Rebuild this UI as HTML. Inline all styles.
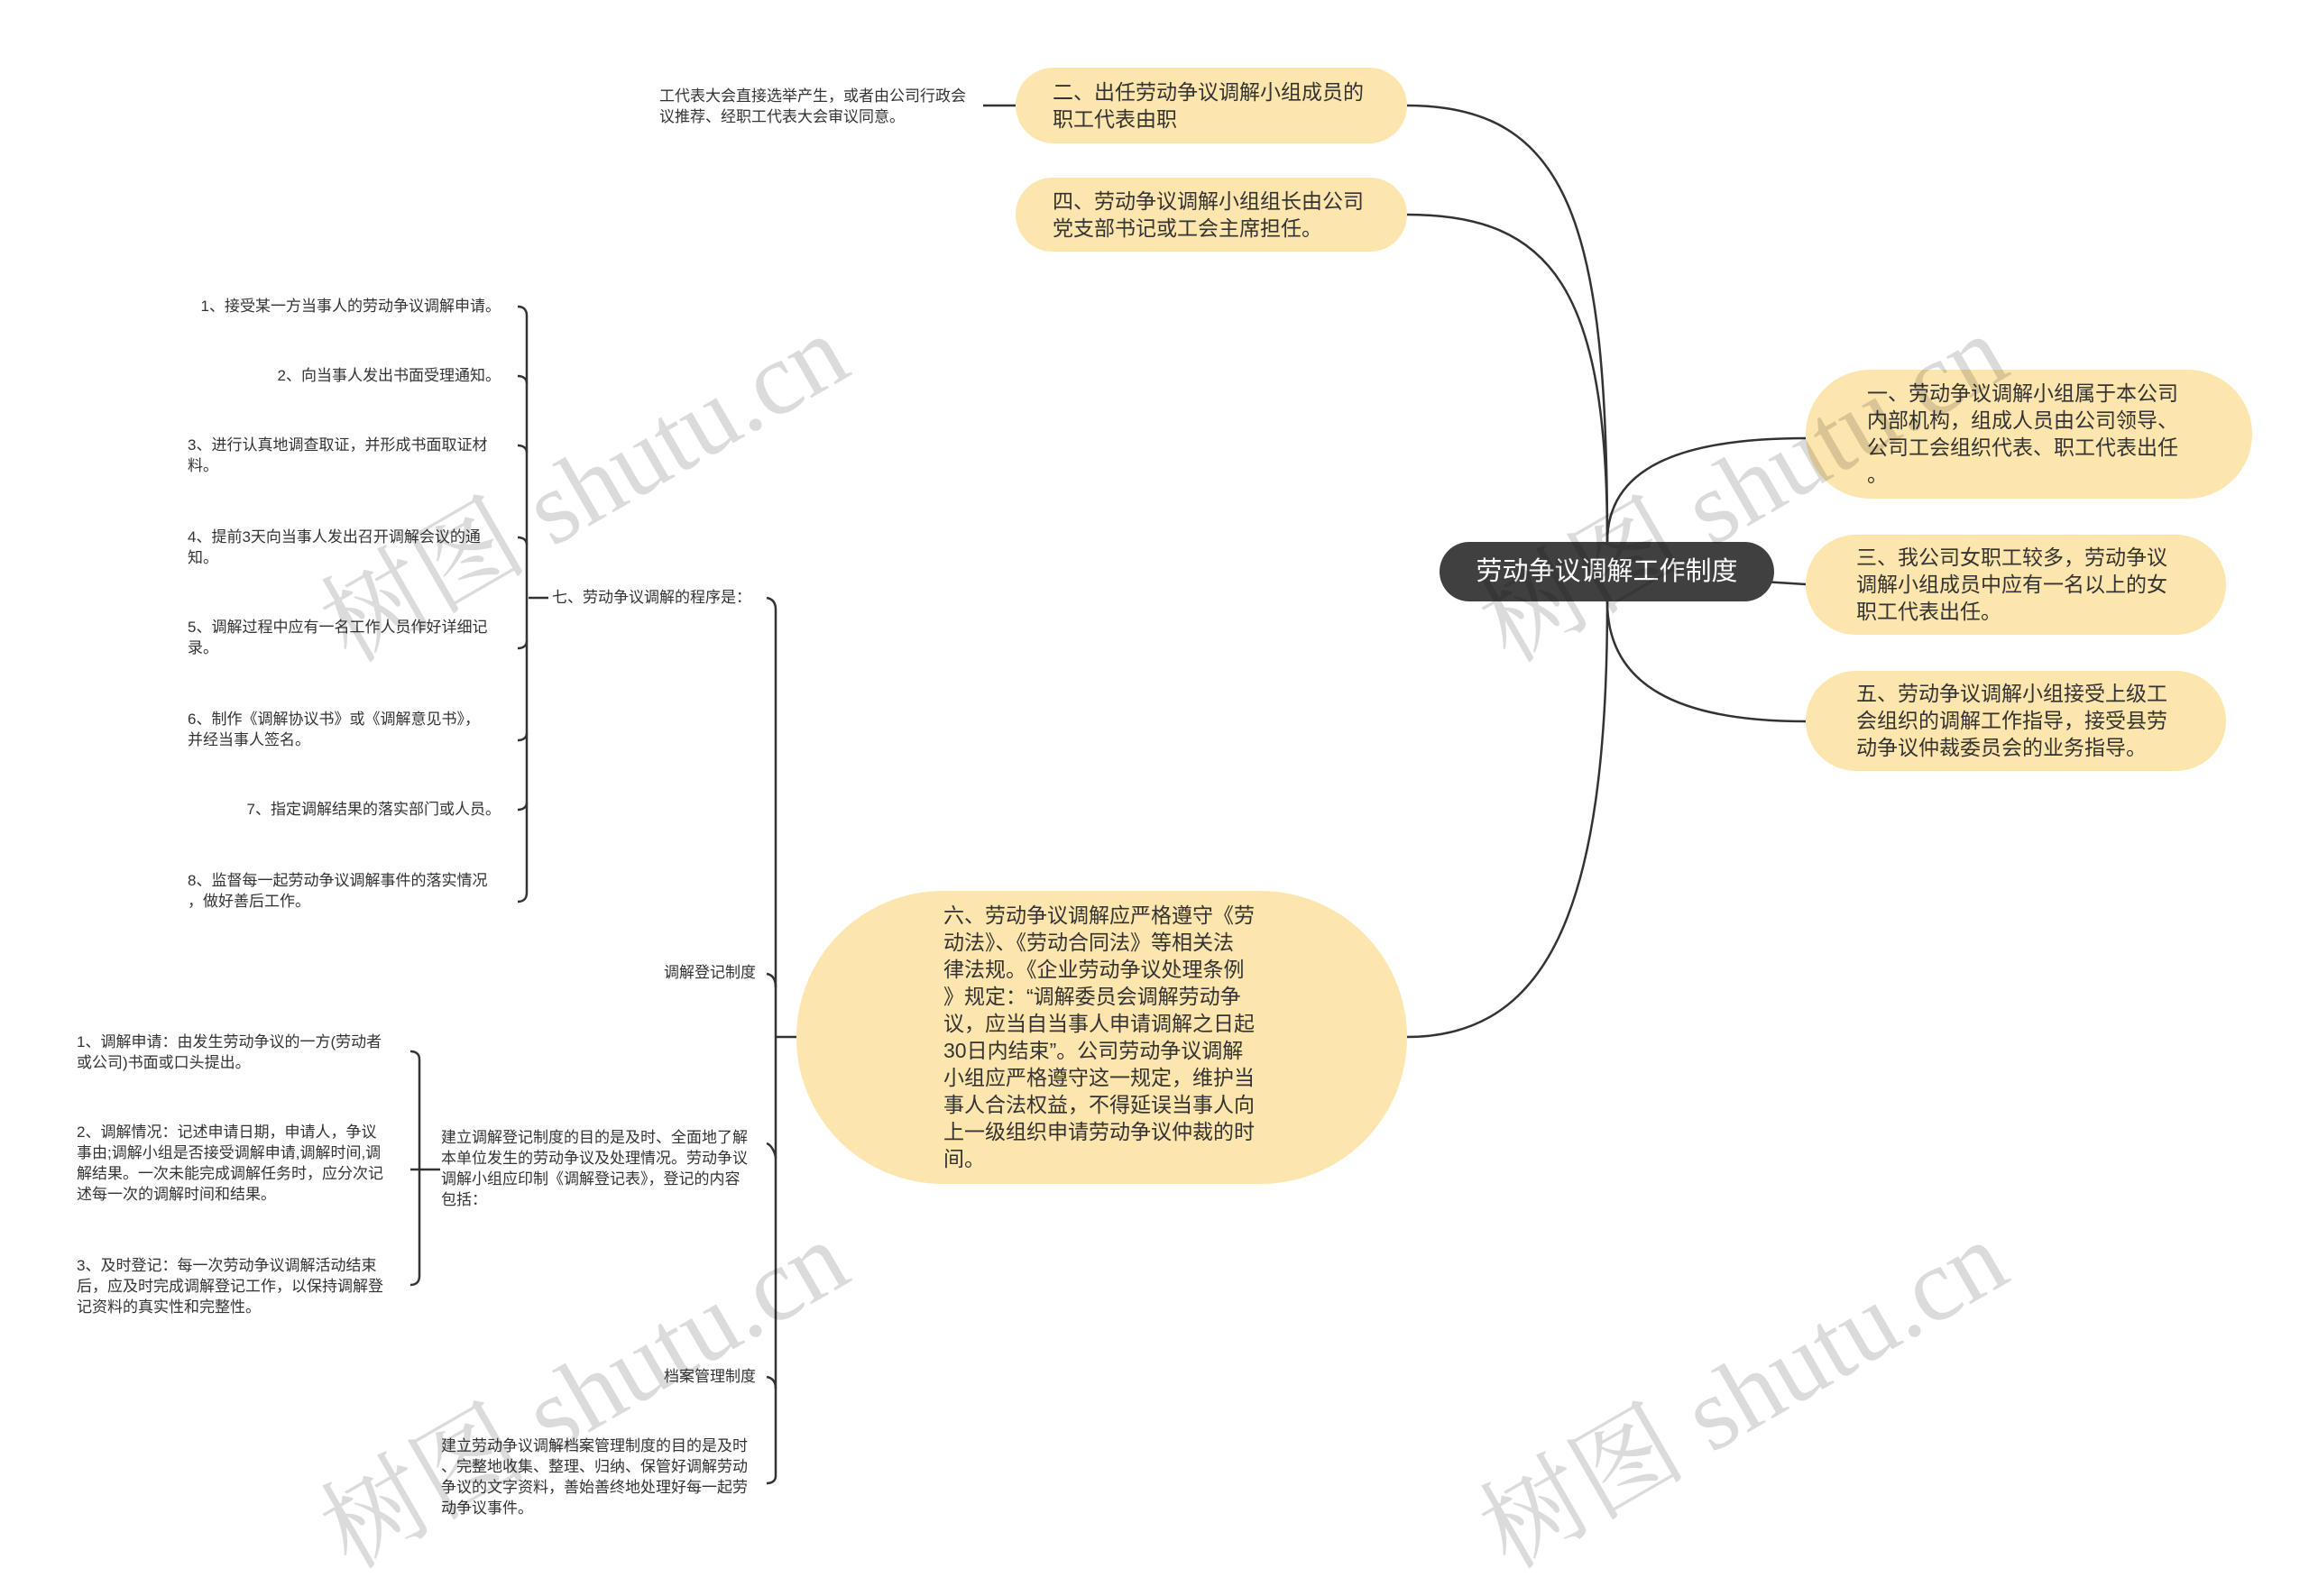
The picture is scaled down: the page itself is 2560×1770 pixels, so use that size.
<!DOCTYPE html>
<html><head><meta charset="utf-8"><style>
body{margin:0;width:2560px;height:1759px;background:#fff;position:relative;overflow:hidden;font-family:"Liberation Sans","Noto Sans CJK SC",sans-serif;}
.t{position:absolute;color:#333;font-size:17px;line-height:23px;white-space:nowrap}
.n{position:absolute;background:#FDE5AE;border-radius:60px;box-sizing:border-box;color:#333;font-size:23px;line-height:30px;white-space:nowrap}
.wm{position:absolute;font-family:"Liberation Serif","Noto Serif CJK SC",serif;font-size:115px;color:rgba(0,0,0,0.14);transform:rotate(-30deg);white-space:nowrap;transform-origin:center}
</style></head><body>
<svg width="2560" height="1759" style="position:absolute;left:0;top:0" fill="none" stroke="#333" stroke-width="2.5">
<path d="M1782 601 C1782 250 1740 117 1560 117"/>
<path d="M1782 601 C1782 320 1720 238 1560 238"/>
<path d="M1782 667 C1782 1000 1720 1150 1560 1150"/>
<path d="M1782 601 C1782 520 1860 486 2002 486"/>
<path d="M1782 634 L2002 648"/>
<path d="M1782 667 C1782 760 1860 800 2002 800"/>
<path d="M1126 117 L1090 117"/>
<path d="M883 1150 L860 1150"/>
<path d="M860 676 C860 668 856 664 850 663"/>
<path d="M860 676 L860 1637"/>
<path d="M860 1637 C860 1642 856 1645 850 1645"/>
<path d="M860 1095 C860 1085 856 1081 850 1080"/>
<path d="M860 1285 C860 1280 856 1270 850 1268"/>
<path d="M860 1540 C860 1532 856 1528 850 1527"/>
<path d="M586 663 L608 663"/>
<path d="M584 350 L584 990"/>
<path d="M574 340 C580 340 584 343 584 350"/>
<path d="M574 417 C580 417 584 420 584 425"/>
<path d="M574 494 C580 494 584 497 584 502"/>
<path d="M574 596 C580 596 584 599 584 604"/>
<path d="M574 719 C580 719 584 716 584 711"/>
<path d="M574 821 C580 821 584 818 584 813"/>
<path d="M574 898 C580 898 584 895 584 890"/>
<path d="M574 1000 C580 1000 584 997 584 990"/>
<path d="M465 1297 L488 1297"/>
<path d="M465 1175 L465 1415"/>
<path d="M455 1166 C461 1166 465 1169 465 1175"/>
<path d="M455 1297 L465 1297"/>
<path d="M455 1425 C461 1425 465 1422 465 1415"/>
</svg>

<div class="t" style="left:731px;top:95px">工代表大会直接选举产生，或者由公司行政会<br>议推荐、经职工代表大会审议同意。</div>
<div class="n" style="left:1126px;top:75px;width:434px;height:84px;padding:12px 0 0 41px">二、出任劳动争议调解小组成员的<br>职工代表由职</div>
<div class="n" style="left:1126px;top:197px;width:434px;height:82px;padding:11px 0 0 41px">四、劳动争议调解小组组长由公司<br>党支部书记或工会主席担任。</div>
<div style="position:absolute;left:1596px;top:601px;width:371px;height:66px;background:#404040;border-radius:33px;color:#fff;font-size:29px;line-height:66px;text-align:center">劳动争议调解工作制度</div>
<div class="n" style="left:2002px;top:410px;width:495px;height:143px;border-radius:72px;padding:11px 0 0 68px">一、劳动争议调解小组属于本公司<br>内部机构，组成人员由公司领导、<br>公司工会组织代表、职工代表出任<br>。</div>
<div class="n" style="left:2002px;top:593px;width:466px;height:111px;padding:10px 0 0 56px">三、我公司女职工较多，劳动争议<br>调解小组成员中应有一名以上的女<br>职工代表出任。</div>
<div class="n" style="left:2002px;top:744px;width:466px;height:111px;padding:10px 0 0 56px">五、劳动争议调解小组接受上级工<br>会组织的调解工作指导，接受县劳<br>动争议仲裁委员会的业务指导。</div>
<div class="n" style="left:883px;top:988px;width:677px;height:325px;border-radius:163px;padding:12px 0 0 163px">六、劳动争议调解应严格遵守《劳<br>动法》、《劳动合同法》等相关法<br>律法规。《企业劳动争议处理条例<br>》规定：“调解委员会调解劳动争<br>议，应当自当事人申请调解之日起<br>30日内结束”。公司劳动争议调解<br>小组应严格遵守这一规定，维护当<br>事人合法权益，不得延误当事人向<br>上一级组织申请劳动争议仲裁的时<br>间。</div>

<div class="t" style="left:612px;top:651px">七、劳动争议调解的程序是：</div>
<div class="t" style="right:2005px;top:328px">1、接受某一方当事人的劳动争议调解申请。</div>
<div class="t" style="right:2005px;top:405px">2、向当事人发出书面受理通知。</div>
<div class="t" style="left:208px;top:482px">3、进行认真地调查取证，并形成书面取证材<br>料。</div>
<div class="t" style="left:208px;top:584px">4、提前3天向当事人发出召开调解会议的通<br>知。</div>
<div class="t" style="left:208px;top:684px">5、调解过程中应有一名工作人员作好详细记<br>录。</div>
<div class="t" style="left:208px;top:786px">6、制作《调解协议书》或《调解意见书》，<br>并经当事人签名。</div>
<div class="t" style="right:2005px;top:886px">7、指定调解结果的落实部门或人员。</div>
<div class="t" style="left:208px;top:965px">8、监督每一起劳动争议调解事件的落实情况<br>，做好善后工作。</div>

<div class="t" style="left:736px;top:1067px">调解登记制度</div>
<div class="t" style="left:489px;top:1250px">建立调解登记制度的目的是及时、全面地了解<br>本单位发生的劳动争议及处理情况。劳动争议<br>调解小组应印制《调解登记表》，登记的内容<br>包括：</div>
<div class="t" style="left:85px;top:1144px">1、调解申请：由发生劳动争议的一方(劳动者<br>或公司)书面或口头提出。</div>
<div class="t" style="left:85px;top:1244px">2、调解情况：记述申请日期，申请人，争议<br>事由;调解小组是否接受调解申请,调解时间,调<br>解结果。一次未能完成调解任务时，应分次记<br>述每一次的调解时间和结果。</div>
<div class="t" style="left:85px;top:1392px">3、及时登记：每一次劳动争议调解活动结束<br>后，应及时完成调解登记工作，以保持调解登<br>记资料的真实性和完整性。</div>
<div class="t" style="left:736px;top:1515px">档案管理制度</div>
<div class="t" style="left:489px;top:1592px">建立劳动争议调解档案管理制度的目的是及时<br>、完整地收集、整理、归纳、保管好调解劳动<br>争议的文字资料，善始善终地处理好每一起劳<br>动争议事件。</div>

<div class="wm" style="left:320px;top:450px">树图 shutu.cn</div>
<div class="wm" style="left:1605px;top:450px">树图 shutu.cn</div>
<div class="wm" style="left:320px;top:1455px">树图 shutu.cn</div>
<div class="wm" style="left:1605px;top:1455px">树图 shutu.cn</div>
</body></html>
